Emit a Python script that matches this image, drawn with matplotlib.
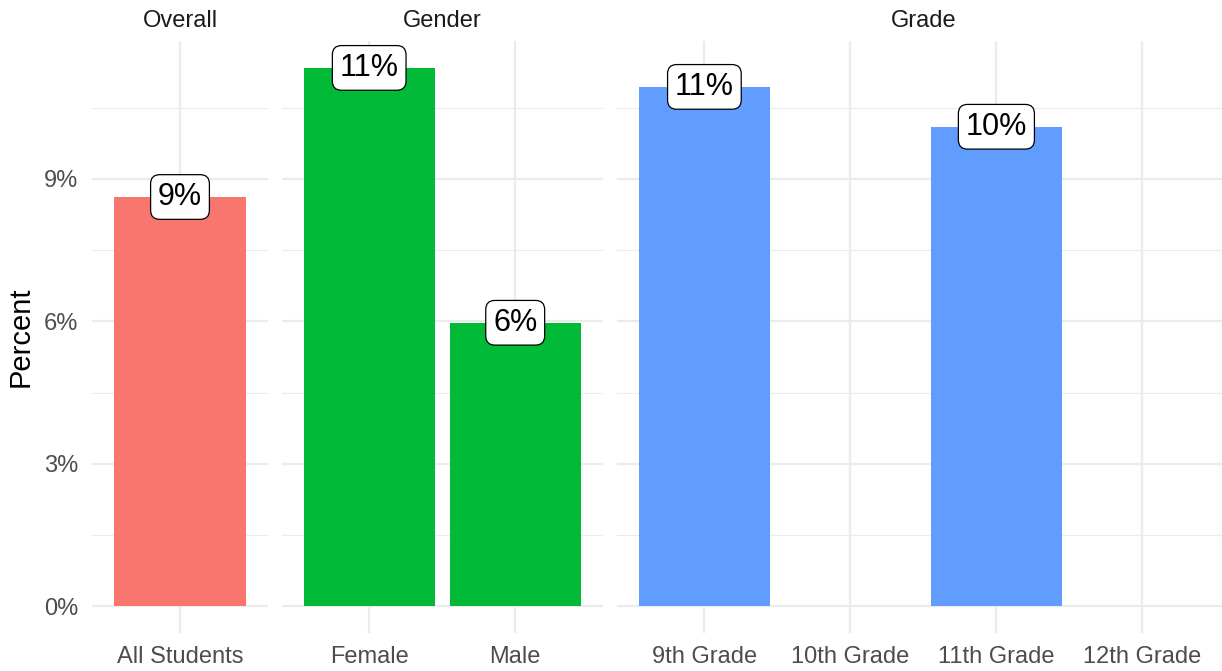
import numpy as np
import matplotlib
matplotlib.use("Agg")
import matplotlib.pyplot as plt

# Data
facets = ["Overall", "Gender", "Grade"]
overall_labels = ["All Students"]
overall_values = [8.62]
gender_labels = ["Female", "Male"]
gender_values = [11.34, 5.97]
grade_labels = ["9th Grade", "10th Grade", "11th Grade", "12th Grade"]
grade_values = [10.94, np.nan, 10.10, np.nan]
bar_colors = ["#F8766D", "#00BA38", "#619CFF"]
y_ticks = [0, 3, 6, 9]
y_minor = [1.5, 4.5, 7.5, 10.5]

plt.rcParams['font.family'] = ['Liberation Sans', 'DejaVu Sans']

W, H = 1222, 671
fig = plt.figure(figsize=(W / 100, H / 100), dpi=100)

# Panel geometry in pixels (last panel runs a little past the right edge, as in the reference)
left, top, bottom = 92.4, 41, 633
gap = 14
px_per_unit = 146
groups = [(overall_labels, overall_values), (gender_labels, gender_values), (grade_labels, grade_values)]
units = [len(g[0]) + 0.2 for g in groups]

# Shared y range, ggplot style 5% expansion
all_vals = [v for g in groups for v in g[1] if not np.isnan(v)]
ymax = max(all_vals)
ylo, yhi = -0.05 * ymax, ymax * 1.05

x0 = left
for i, (labels, values) in enumerate(groups):
    w = units[i] * px_per_unit
    ax = fig.add_axes([x0 / W, 1 - bottom / H, w / W, (bottom - top) / H])
    x0 += w + gap

    pos = np.arange(1, len(labels) + 1)
    ax.set_xlim(0.4, len(labels) + 0.6)
    ax.set_ylim(ylo, yhi)

    # Grid lines
    for y in y_ticks:
        ax.axhline(y, color="#EBEBEB", lw=1.6, zorder=0)
    for y in y_minor:
        ax.axhline(y, color="#EBEBEB", lw=0.8, zorder=0)
    for x in pos:
        ax.axvline(x, color="#EBEBEB", lw=1.6, zorder=0)

    vals = np.array(values, dtype=float)
    ax.bar(pos, np.nan_to_num(vals), width=0.9, color=bar_colors[i], zorder=2)

    # Value labels in boxes
    for p, v in zip(pos, vals):
        if np.isnan(v):
            continue
        ax.text(p, v, f"{v:.0f}%", ha="center", va="center", fontsize=22, color="black",
                zorder=3,
                bbox=dict(boxstyle="round,pad=0.24,rounding_size=0.3", fc="white", ec="black", lw=0.9))

    for s in ax.spines.values():
        s.set_visible(False)
    ax.set_xticks(pos)
    ax.set_xticklabels(labels, fontsize=17, color="#4D4D4D")
    ax.tick_params(axis="x", length=0, pad=9.5)
    ax.set_title(facets[i], fontsize=17, color="#1A1A1A", pad=10)

    if i == 0:
        ax.set_yticks(y_ticks)
        ax.set_yticklabels([f"{t}%" for t in y_ticks], fontsize=17, color="#4D4D4D")
        ax.tick_params(axis="y", length=0, pad=10)
        ax.set_ylabel("Percent", fontsize=21, color="black", labelpad=7)
    else:
        ax.set_yticks([])

fig.savefig("out.png", dpi=100, facecolor="white")
